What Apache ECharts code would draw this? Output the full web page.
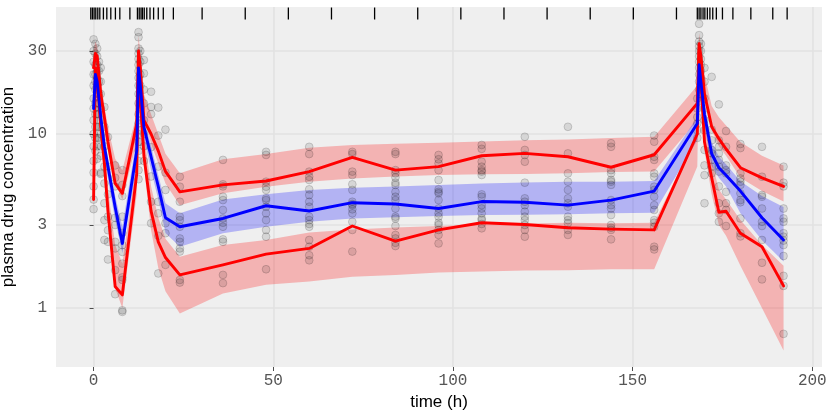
<!DOCTYPE html>
<html>
<head>
<meta charset="utf-8">
<script src="https://cdn.jsdelivr.net/npm/echarts@6/dist/echarts.min.js"></script>
<style>
html,body{margin:0;padding:0;background:#fff;}
#c{width:830px;height:415px;}
</style>
</head>
<body>
<div id="c"></div>
<script>
// bin times
const binTimes = [0, 0.5, 1, 2, 3, 4, 6, 8, 12, 12.5, 13, 14, 16, 18, 20, 24, 36, 48, 60, 72, 84, 96, 108, 120, 132, 144, 156, 168, 168.5, 169, 170, 172, 174, 176, 180, 186, 192];
// observed percentiles
const obsP95 = [24, 29, 28, 17, 12.5, 9, 5.2, 4.56, 11.5, 30, 24, 12, 10, 8, 6.1, 4.65, 5.1, 5.37, 6.08, 7.35, 6.2, 6.49, 7.5, 7.74, 7.4, 6.44, 7.6, 15, 33, 28, 17, 11, 9.4, 8.2, 6.4, 5.6, 5.0];
const obsMed = [14, 22, 20, 12.5, 8.5, 6.5, 3.8, 2.35, 8, 24, 19, 11, 7.4, 5, 3.3, 2.93, 3.27, 3.87, 3.61, 4.03, 3.96, 3.73, 4.09, 4.05, 3.9, 4.17, 4.7, 11.5, 25, 20, 13, 7.7, 6.4, 5.8, 4.7, 3.3, 2.46];
const obsP05 = [4.2, 24, 21, 11, 6.8, 3.6, 1.33, 1.19, 5.9, 24, 16, 7.5, 3.6, 2.4, 1.95, 1.55, 1.77, 2.04, 2.2, 2.96, 2.42, 2.81, 3.09, 3.02, 2.89, 2.84, 2.81, 10, 30, 20, 9, 5.6, 3.55, 3.6, 2.69, 2.25, 1.34];
// simulated CI bands
const simP95Lo = [18, 26, 24, 15, 10.5, 8, 5.2, 4.2, 9, 27, 21, 12.5, 8.8, 6.8, 5.2, 3.9, 4.56, 4.98, 5.32, 5.55, 5.7, 5.81, 5.87, 5.9, 5.94, 6.05, 6.08, 12, 28, 24, 16, 10.5, 8.5, 7.5, 5.6, 4.7, 4.1];
const simP95Hi = [30, 34, 32, 21, 14.5, 11, 7.2, 6.2, 13, 37, 29, 17, 13, 10, 7.7, 5.94, 7.16, 7.67, 8.34, 8.65, 8.8, 8.91, 9.05, 9.2, 9.3, 9.5, 9.64, 19, 38, 32, 22, 14.5, 12.5, 11.2, 9.0, 7.5, 6.6];
const simMedLo = [9, 19, 17, 11, 7.5, 5.5, 3.2, 2.07, 6.5, 21, 16, 9.5, 6.2, 4.2, 2.7, 2.25, 2.69, 2.93, 3.13, 3.27, 3.32, 3.38, 3.42, 3.44, 3.46, 3.5, 3.53, 9.2, 22, 18, 11, 6.6, 5.6, 5.0, 3.5, 2.45, 1.85];
const simMedHi = [17, 25, 23, 14.5, 9.7, 7.2, 4.4, 2.93, 9.5, 27, 22, 12.5, 8.5, 5.8, 4.0, 3.5, 4.2, 4.5, 4.77, 4.91, 5.0, 5.1, 5.2, 5.26, 5.32, 5.32, 5.37, 12.5, 30, 24, 15, 9, 7.4, 6.7, 5.35, 4.4, 3.8];
const simP05Lo = [3.5, 20, 18, 9, 5.5, 3.0, 1.3, 1.0, 4.5, 20, 13, 6.5, 2.8, 1.7, 1.25, 0.93, 1.21, 1.36, 1.42, 1.51, 1.55, 1.6, 1.62, 1.64, 1.65, 1.67, 1.67, 6.5, 26, 17, 8, 4.5, 3.0, 2.6, 1.75, 1.0, 0.57];
const simP05Hi = [6, 28, 25, 13, 8, 4.8, 2.3, 1.8, 7, 28, 19, 10, 5, 3.3, 2.5, 1.97, 2.3, 2.46, 2.72, 2.83, 2.9, 2.96, 3.02, 3.06, 3.09, 3.07, 3.09, 10, 34, 24, 12, 7, 4.8, 4.2, 3.2, 2.3, 1.75];
// observations
const obsTimes = [0, 0.5, 1, 1.5, 2, 3, 4, 6, 8, 12.5, 13, 14, 16, 18, 20, 24, 36, 48, 60, 72, 84, 96, 108, 120, 132, 144, 156, 168, 168.5, 169, 170, 172, 174, 176, 180, 186, 192];
const obsConcs = [
  [35, 30, 26, 22, 19, 16, 14, 12, 10, 8.5, 7, 6, 5, 4.2, 3.7],
  [33, 29, 25, 22, 20, 18, 15, 13, 11, 9.5, 8],
  [31, 28, 25, 23, 21, 19, 17, 15, 13, 11, 9.5, 8.5, 7.2],
  [26, 23, 20, 17, 15, 13, 11, 9.5],
  [24, 20, 17, 14, 12, 10, 8.5, 7.5, 6, 5.9],
  [14.3, 11, 8.5, 6.5, 5.2, 4.0, 3.2, 2.46],
  [9.6, 6.5, 4.5, 3.35, 2.8, 2.4, 1.9],
  [6.6, 5.6, 5.0, 3.3, 3.0, 2.4, 2.2, 1.65, 1.2],
  [6.2, 5.1, 4.4, 3.35, 2.7, 2.3, 2.1, 1.8, 1.5, 1.45, 0.97, 0.95],
  [38.5, 36, 31, 29, 27, 25, 23, 21, 19, 17, 15, 13, 11.5, 10, 9, 8, 7, 6.2, 5.5],
  [30, 26, 22, 19, 16, 14, 12, 10.5, 9],
  [26.6, 22.3, 18, 15, 12, 10, 8.5, 7],
  [17.5, 14.3, 13, 8.4, 5.7, 4.08, 3.07],
  [14.2, 9.8, 6.5, 4.08, 3.5, 2.6, 1.58],
  [10.6, 6.0, 4.77, 3.07, 2.69, 1.77],
  [5.68, 4.98, 4.08, 3.35, 3.2, 2.93, 2.51, 2.4, 2.2, 2.11, 1.45, 1.4],
  [7.1, 5.14, 5.0, 4.36, 4.17, 3.66, 3.27, 3.09, 2.93, 2.48, 2.4, 1.55, 1.39],
  [7.9, 7.58, 5.32, 4.98, 4.77, 4.27, 4.17, 3.82, 3.5, 3.2, 2.81, 2.57, 1.67],
  [8.44, 7.67, 6.08, 5.68, 5.44, 4.81, 4.46, 4.08, 3.82, 3.35, 3.2, 3.04, 2.93, 2.46, 2.25, 2.01, 1.88],
  [7.9, 7.67, 6.08, 5.81, 5.14, 4.77, 4.08, 3.96, 3.9, 3.69, 3.5, 3.13, 2.81, 2.11],
  [7.9, 7.67, 6.2, 5.94, 5.63, 5.25, 5.1, 4.65, 4.36, 4.17, 3.73, 3.35, 3.27, 2.96, 2.63, 2.51, 2.37, 2.27],
  [7.58, 7.16, 6.78, 6.2, 5.44, 4.81, 4.65, 4.56, 4.17, 3.73, 3.5, 3.35, 3.09, 3.0, 2.81, 2.63, 2.35],
  [8.65, 8.22, 6.93, 6.49, 6.2, 6.08, 5.81, 4.5, 4.36, 3.9, 3.73, 3.5, 3.27, 3.2, 3.04, 2.87],
  [9.64, 8.1, 7.58, 6.93, 5.25, 4.27, 4.08, 3.9, 3.58, 3.35, 3.2, 3.0, 2.81, 2.57],
  [11.0, 7.74, 5.94, 5.32, 4.77, 4.27, 4.0, 3.82, 3.35, 3.2, 3.07, 2.81, 2.63],
  [8.85, 8.44, 6.2, 5.94, 5.44, 5.32, 5.1, 4.17, 3.9, 3.73, 3.42, 3.0, 2.89, 2.81, 2.48],
  [9.8, 9.03, 7.4, 7.1, 5.94, 5.68, 4.98, 4.77, 4.36, 3.9, 3.66, 3.2, 3.09, 2.93, 2.25, 2.17],
  [16, 14, 12.5, 11.5, 10.5, 9.5],
  [43, 37, 34, 32, 30, 28, 26, 24, 22, 20, 18],
  [33, 30, 27, 25, 23, 21, 19, 17, 15.5],
  [24, 20, 16, 14, 12, 10.5, 8.1, 6.6, 5.8, 4.0],
  [21.3, 10.6, 9.2, 8.1, 7.74, 7.1, 6.49, 5.94],
  [14.8, 9.2, 8.44, 7.74, 7.1, 6.49, 6.08, 5.0, 4.0, 3.5, 3.13],
  [10.4, 8.44, 6.6, 6.2, 5.94, 4.65, 4.0, 3.66, 2.96],
  [8.76, 8.3, 5.94, 5.55, 5.32, 5.1, 4.56, 4.17, 4.05, 3.27, 2.69, 2.58],
  [8.44, 5.68, 4.46, 4.36, 3.73, 3.13, 2.96, 2.46, 1.82, 1.46],
  [6.49, 5.25, 5.0, 3.73, 3.27, 3.13, 2.69, 2.57, 2.44, 2.3, 1.99, 1.53, 1.34, 0.71]
];
// rug (bin separators)
const rugTimes = [-0.78, -0.33, 0.14, 0.61, 1.17, 1.73, 2.73, 3.68, 4.79, 6.07, 7.3, 10.1, 12.2, 12.7, 13.2, 13.6, 14.1, 14.8, 15.7, 16.7, 18.0, 19.4, 22.2, 30.2, 42.2, 54.2, 66.2, 78.2, 90.2, 102.2, 114.2, 126.2, 138.2, 150.2, 162.2, 168.0, 168.5, 169.0, 169.6, 170.1, 170.8, 171.5, 172.3, 173.3, 175.0, 177.9, 182.9, 189.0, 193.0];
const xTicks = [0, 50, 100, 150, 200];
const yTicks = [1, 3, 10, 30];

const chart = echarts.init(document.getElementById('c'), null, {renderer: 'canvas'});

function band(lo, hi, color) {
  return {
    type: 'custom',
    silent: true,
    z: 1,
    clip: true,
    encode: {x: 0, y: [1, 2]},
    data: binTimes.map((t, i) => [t, lo[i], hi[i]]),
    renderItem: function (params, api) {
      if (params.dataIndex !== 0) return null;
      const top = binTimes.map((t, i) => api.coord([t, hi[i]]));
      const bot = binTimes.map((t, i) => api.coord([t, lo[i]])).reverse();
      return {type: 'polygon', shape: {points: top.concat(bot)}, style: {fill: color}};
    }
  };
}
function line(vals, color) {
  return {
    type: 'line', silent: true, z: 3,
    data: binTimes.map((t, i) => [t, vals[i]]),
    showSymbol: false, symbol: 'none',
    lineStyle: {color: color, width: 2.9, cap: 'round', join: 'round'}
  };
}
const pts = [];
obsTimes.forEach((t, i) => obsConcs[i].forEach(v => pts.push([t, v])));

const option = {
  animation: false,
  backgroundColor: '#ffffff',
  grid: {left: 56, right: 8, top: 7, bottom: 48, show: true, backgroundColor: '#EFEFEF', borderWidth: 0,
         containLabel: false, outerBoundsMode: 'none'},
  xAxis: {
    type: 'value', min: -10.46, max: 202.7,
    name: 'time (h)', nameLocation: 'middle', nameGap: 27,
    nameTextStyle: {fontFamily: 'Liberation Sans', fontSize: 17, color: '#000'},
    axisLine: {show: false},
    axisTick: {show: true, length: 4, customValues: xTicks, lineStyle: {color: '#4d4d4d', width: 1}},
    axisLabel: {customValues: xTicks, margin: 6, fontFamily: 'Liberation Mono', fontSize: 16, color: '#555555'},
    splitLine: {show: true, lineStyle: {color: '#E2E2E2', width: 1.6}}
  },
  yAxis: {
    type: 'log', min: 0.458, max: 53.7,
    name: 'plasma drug concentration', nameLocation: 'middle', nameGap: 30,
    nameTextStyle: {fontFamily: 'Liberation Sans', fontSize: 17, color: '#000'},
    axisLine: {show: false},
    axisTick: {show: true, length: 4, customValues: yTicks, lineStyle: {color: '#4d4d4d', width: 1}},
    axisLabel: {customValues: yTicks, margin: 9, fontFamily: 'Liberation Mono', fontSize: 16, color: '#555555'},
    splitLine: {show: true, lineStyle: {color: '#E2E2E2', width: 1.6}},
    minorSplitLine: {show: false}
  },
  series: [
    band(simP95Lo, simP95Hi, 'rgba(255,0,0,0.25)'),
    band(simMedLo, simMedHi, 'rgba(0,0,255,0.25)'),
    band(simP05Lo, simP05Hi, 'rgba(255,0,0,0.25)'),
    {
      type: 'scatter', silent: true, z: 2,
      data: pts, symbol: 'circle', symbolSize: 7.8,
      itemStyle: {color: 'rgba(0,0,0,0.13)', borderColor: 'rgba(0,0,0,0.25)', borderWidth: 0.8}
    },
    line(obsP95, '#ff0000'),
    line(obsP05, '#ff0000'),
    line(obsMed, '#0000ff'),
    {
      type: 'custom', silent: true, z: 4, clip: false,
      encode: {x: 0, y: 1},
      data: rugTimes.map(t => [t, 1]),
      renderItem: function (params, api) {
        const x = api.coord([api.value(0), 1])[0];
        const cs = params.coordSys;
        return {type: 'rect', shape: {x: x - 0.65, y: cs.y + 0.5, width: 1.3, height: 12}, style: {fill: '#000'}};
      }
    }
  ]
};
chart.setOption(option);
</script>
</body>
</html>
